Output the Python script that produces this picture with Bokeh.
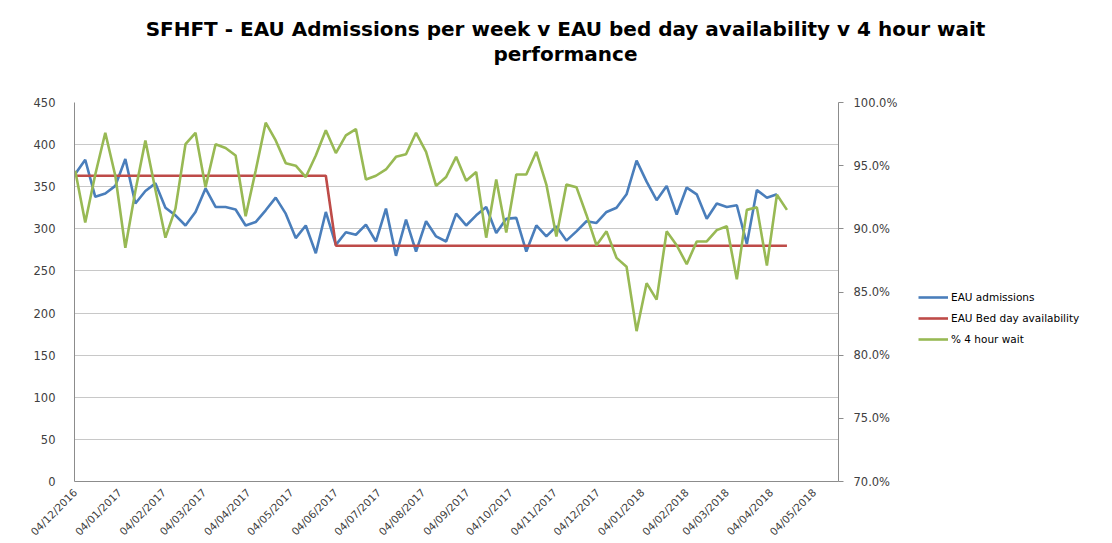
import math
from datetime import datetime
import pandas as pd
from bokeh.plotting import figure
from bokeh.layouts import row, column
from bokeh.models import (Range1d, LinearAxis, SingleIntervalTicker, FixedTicker,
                          DatetimeTickFormatter, PrintfTickFormatter, Legend, LegendItem,
                          ColumnDataSource, Label)
from bokeh.embed import file_html
from bokeh.resources import INLINE

# ---------------- data ----------------
title_line1 = "SFHFT - EAU Admissions per week v EAU bed day availability v 4 hour wait"
title_line2 = "performance"
first_week = "2016-12-04"
series_names = ["EAU admissions", "EAU Bed day availability", "% 4 hour wait"]
series_colors = ["#4A7EBB", "#BE4B48", "#98B954"]

admissions = [365, 382, 338, 342, 351, 383, 330, 345, 354, 325, 316, 304, 320, 348, 326, 326,
              323, 304, 308, 322, 337, 318, 289, 304, 271, 320, 281, 296, 293, 305, 285, 324,
              268, 311, 273, 309, 291, 285, 318, 304, 316, 326, 295, 312, 313, 273, 304, 291,
              303, 286, 297, 309, 307, 320, 325, 341, 381, 356, 334, 351, 317, 349, 341, 312,
              330, 326, 328, 282, 346, 337, 341]

bed_days = [363, 363, 363, 363, 363, 363, 363, 363, 363, 363, 363, 363, 363, 363, 363, 363,
            363, 363, 363, 363, 363, 363, 363, 363, 363, 363, 280, 280, 280, 280, 280, 280,
            280, 280, 280, 280, 280, 280, 280, 280, 280, 280, 280, 280, 280, 280, 280, 280,
            280, 280, 280, 280, 280, 280, 280, 280, 280, 280, 280, 280, 280, 280, 280, 280,
            280, 280, 280, 280, 280, 280, 280, 280]

four_hour_pct = [94.6, 90.5, 94.3, 97.6, 94.2, 88.5, 93.0, 97.0, 93.1, 89.3, 91.6, 96.7,
                 97.6, 93.3, 96.7, 96.4, 95.8, 91.0, 94.6, 98.4, 97.0, 95.2, 95.0, 94.1,
                 95.8, 97.8, 96.0, 97.4, 97.9, 93.9, 94.2, 94.7, 95.7, 95.9, 97.6, 96.1,
                 93.4, 94.1, 95.7, 93.8, 94.5, 89.3, 93.9, 89.7, 94.3, 94.3, 96.1, 93.5,
                 89.4, 93.5, 93.3, 91.1, 88.7, 89.8, 87.7, 87.0, 81.9, 85.7, 84.4, 89.8,
                 88.7, 87.2, 89.0, 89.0, 89.9, 90.2, 86.0, 91.5, 91.7, 87.1, 92.7, 91.5]

x_tick_labels = ["04/12/2016", "04/01/2017", "04/02/2017", "04/03/2017", "04/04/2017",
                 "04/05/2017", "04/06/2017", "04/07/2017", "04/08/2017", "04/09/2017",
                 "04/10/2017", "04/11/2017", "04/12/2017", "04/01/2018", "04/02/2018",
                 "04/03/2018", "04/04/2018", "04/05/2018"]

# ---------------- build ----------------
weeks = pd.date_range(first_week, periods=len(four_hour_pct), freq="7D")
src_adm = ColumnDataSource(dict(x=weeks[:len(admissions)], y=admissions))
src_bed = ColumnDataSource(dict(x=weeks[:len(bed_days)], y=bed_days))
src_pct = ColumnDataSource(dict(x=weeks[:len(four_hour_pct)], y=four_hour_pct))
sources = [src_adm, src_bed, src_pct]

tick_ms = [datetime.strptime(s, "%d/%m/%Y").timestamp() * 1000 for s in x_tick_labels]
x_start = pd.Timestamp(first_week) - pd.Timedelta(hours=12)
x_end = pd.Timestamp(first_week) + pd.Timedelta(days=533)

FONT = "DejaVu Sans"
TXT = "#404040"
AXC = "#8c8c8c"
LW = 2.6
TOTAL_W = 1096
TITLE_H = 66

def bare(fig):
    fig.outline_line_color = None
    fig.xgrid.grid_line_color = None
    fig.ygrid.grid_line_color = None
    fig.border_fill_color = "white"
    fig.background_fill_color = "white"

# ---------------- title strip ----------------
tf = figure(width=TOTAL_W, height=TITLE_H, x_range=Range1d(0, TOTAL_W), y_range=Range1d(0, TITLE_H),
            output_backend="svg", toolbar_location=None,
            x_axis_location=None, y_axis_location=None,
            min_border_left=0, min_border_right=0, min_border_top=0, min_border_bottom=0)
bare(tf)
for txt, yy in [(title_line1, 38), (title_line2, 13)]:
    tf.add_layout(Label(x=565, y=yy, text=txt, text_align="center", text_baseline="middle",
                        text_font=FONT, text_font_style="bold", text_font_size="20px",
                        text_color="#000000"))

# ---------------- main chart ----------------
p = figure(frame_width=764, frame_height=379, x_axis_type="datetime",
           x_range=Range1d(x_start, x_end), y_range=Range1d(0, 450),
           output_backend="svg", toolbar_location=None,
           min_border_left=74, min_border_right=80, min_border_top=102 - TITLE_H,
           min_border_bottom=46)
p.outline_line_color = None
p.background_fill_color = "white"
p.border_fill_color = "white"

p.xgrid.grid_line_color = None
p.ygrid.grid_line_color = "#c8c8c8"
p.ygrid.grid_line_width = 1
p.ygrid.ticker = SingleIntervalTicker(interval=50)

yax = p.yaxis[0]
yax.ticker = SingleIntervalTicker(interval=50)
yax.axis_line_color = AXC
yax.major_tick_line_color = None
yax.minor_tick_line_color = None
yax.major_label_text_font = FONT
yax.major_label_text_font_size = "11.5px"
yax.major_label_text_color = TXT
yax.major_label_standoff = 13

xax = p.xaxis[0]
xax.ticker = FixedTicker(ticks=tick_ms)
fmt = "%d/%m/%Y"
xax.formatter = DatetimeTickFormatter(milliseconds=fmt, seconds=fmt, minsec=fmt, minutes=fmt,
                                      hourmin=fmt, hours=fmt, days=fmt, months=fmt, years=fmt)
xax.major_label_orientation = math.pi / 4
xax.axis_line_color = AXC
xax.major_tick_line_color = None
xax.minor_tick_line_color = None
xax.major_label_text_font = FONT
xax.major_label_text_font_size = "10.5px"
xax.major_label_text_color = TXT
xax.major_label_standoff = 3

p.extra_y_ranges = {"pct": Range1d(70, 100)}
rax = LinearAxis(y_range_name="pct", ticker=SingleIntervalTicker(interval=5),
                 formatter=PrintfTickFormatter(format="%.1f%%"))
rax.axis_line_color = AXC
rax.major_tick_line_color = AXC
rax.major_tick_out = 5
rax.major_tick_in = 0
rax.minor_tick_line_color = None
rax.major_label_text_font = FONT
rax.major_label_text_font_size = "11.5px"
rax.major_label_text_color = TXT
rax.major_label_standoff = 10
p.add_layout(rax, "right")

p.line("x", "y", source=src_adm, line_color=series_colors[0], line_width=LW)
p.line("x", "y", source=src_bed, line_color=series_colors[1], line_width=LW)
p.line("x", "y", source=src_pct, line_color=series_colors[2], line_width=LW, y_range_name="pct")

# ---------------- legend panel ----------------
MAIN_H = 102 - TITLE_H + 379 + 46
lg = figure(width=TOTAL_W - 918, height=MAIN_H, x_range=Range1d(0, 1), y_range=Range1d(0, 1),
            output_backend="svg", toolbar_location=None,
            x_axis_location=None, y_axis_location=None,
            min_border_left=0, min_border_right=0, min_border_top=0, min_border_bottom=0)
bare(lg)

items = []
for name, col, src in zip(series_names, series_colors, sources):
    # same data, but outside this panel's view: only its legend swatch is visible
    r = lg.line("x", "y", source=src, line_color=col, line_width=LW)
    items.append(LegendItem(label=name, renderers=[r]))

legend = Legend(items=items, location=(0, 115), border_line_color=None,
                background_fill_alpha=0)
legend.label_text_font = FONT
legend.label_text_font_size = "10.5px"
legend.label_text_color = "#000000"
legend.glyph_width = 30
legend.glyph_height = 20
legend.label_height = 20
legend.spacing = 1
legend.label_standoff = 3
legend.margin = 0
legend.padding = 0
lg.add_layout(legend, "center")

layout = column(tf, row(p, lg, spacing=0), spacing=0)
open("out.html", "w").write(file_html(layout, INLINE))
